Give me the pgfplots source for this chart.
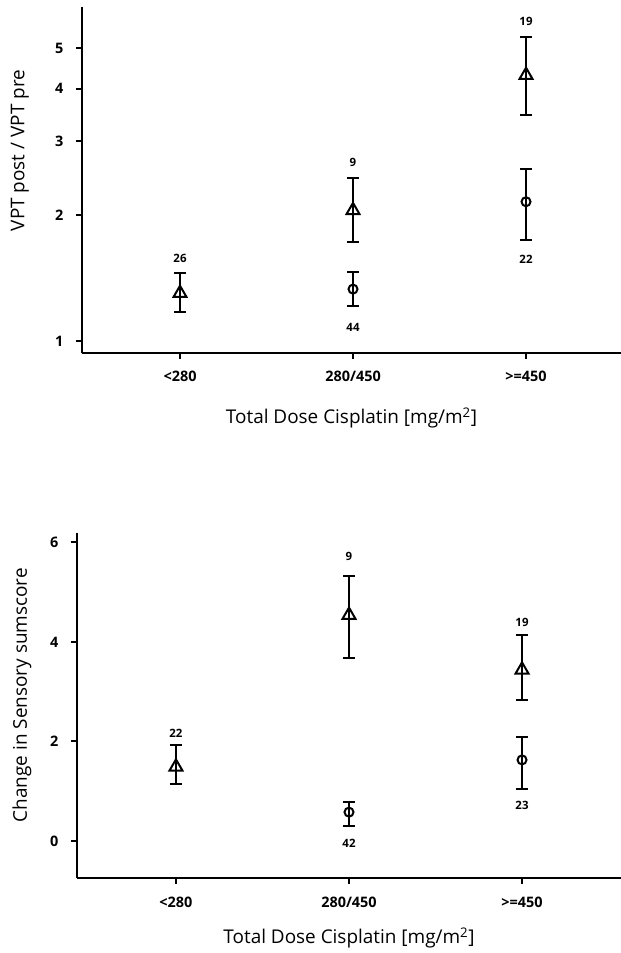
\documentclass[border=0pt]{standalone}
\usepackage{fontspec}
\setmainfont{Open Sans}
\usepackage{pgfplots}
\pgfplotsset{compat=1.18}

\pgfplotsset{
  dose/.style={
    scale only axis,
    clip=false,
    axis x line*=bottom,
    axis y line*=left,
    axis line style={line width=2.4bp, -},
    tick style={line width=2bp, black},
    major tick length=6bp,
    tick align=outside,
    minor tick num=0,
    xtick={1,2,3},
    xticklabels={<280, 280/450, >=450},
    tick label style={font=\fontsize{14.5}{17}\selectfont\bfseries},
    xticklabel style={yshift=-9bp},
    yticklabel style={xshift=-9bp},
    /pgf/number format/assume math mode=true,
    label style={font=\fontsize{19}{22}\selectfont},
    xlabel={Total Dose Cisplatin [mg/m\textsuperscript{2}]},
    xlabel style={at={(axis description cs:0.5,0)}, anchor=center},
    error bars/y dir=both,
    error bars/y explicit,
    error bars/error bar style={line width=2bp, black},
    error bars/error mark options={rotate=90, mark size=6bp, line width=2bp, black},
  },
  tri/.style={only marks, black, mark=triangle, mark size=7.5bp, mark options={line width=2bp}},
  circ/.style={only marks, black, mark=o, mark size=4.5bp, mark options={line width=2bp}},
}
\newcommand{\nfont}{\fontsize{11.5}{13}\selectfont\bfseries}

\begin{document}
\begin{tikzpicture}
\path[use as bounding box] (0,0) rectangle (621bp,-953bp);

% VPT ratio
\begin{axis}[dose,
    at={(82bp,-353bp)}, anchor=south west,
    width=539bp, height=346bp,
    xmin=0.4335, xmax=3.549,
    ymode=log, ymin=0.936, ymax=6.27,
    ytick={1,2,3,4,5}, yticklabels={1,2,3,4,5},
    ylabel={VPT post / VPT pre},
    ylabel style={at={(axis description cs:-0.115,0.585)}, anchor=center},
    xlabel style={yshift=-65bp},
]
\addplot[tri] coordinates {
  (1,1.30) += (0,0.15) -= (0,0.13)
  (2,2.05) += (0,0.40) -= (0,0.33)
  (3,4.31) += (0,1.01) -= (0,0.85)
};
\addplot[circ] coordinates {
  (2,1.33) += (0,0.13) -= (0,0.12)
  (3,2.15) += (0,0.42) -= (0,0.41)
};
\node[font=\nfont] at (axis cs:1,1.578) {26};
\node[font=\nfont] at (axis cs:2,2.675) {9};
\node[font=\nfont] at (axis cs:2,1.08) {44};
\node[font=\nfont] at (axis cs:3,5.80) {19};
\node[font=\nfont] at (axis cs:3,1.57) {22};
\end{axis}

% sensory sumscore
\begin{axis}[dose,
    at={(77bp,-878bp)}, anchor=south west,
    width=544bp, height=345bp,
    xmin=0.428, xmax=3.572,
    ymin=-0.744, ymax=6.19,
    ytick={0,2,4,6},
    ylabel={Change in Sensory sumscore},
    ylabel style={at={(axis description cs:-0.101,0.53)}, anchor=center},
    xlabel style={yshift=-60bp},
]
\addplot[tri] coordinates {
  (1,1.49) += (0,0.44) -= (0,0.34)
  (2,4.54) += (0,0.79) -= (0,0.86)
  (3,3.44) += (0,0.70) -= (0,0.61)
};
\addplot[circ] coordinates {
  (2,0.58) += (0,0.20) -= (0,0.28)
  (3,1.63) += (0,0.46) -= (0,0.58)
};
\node[font=\nfont] at (axis cs:1,2.17) {22};
\node[font=\nfont] at (axis cs:2,5.71) {9};
\node[font=\nfont] at (axis cs:2,-0.04) {42};
\node[font=\nfont] at (axis cs:3,4.40) {19};
\node[font=\nfont] at (axis cs:3,0.72) {23};
\end{axis}
\end{tikzpicture}
\end{document}
